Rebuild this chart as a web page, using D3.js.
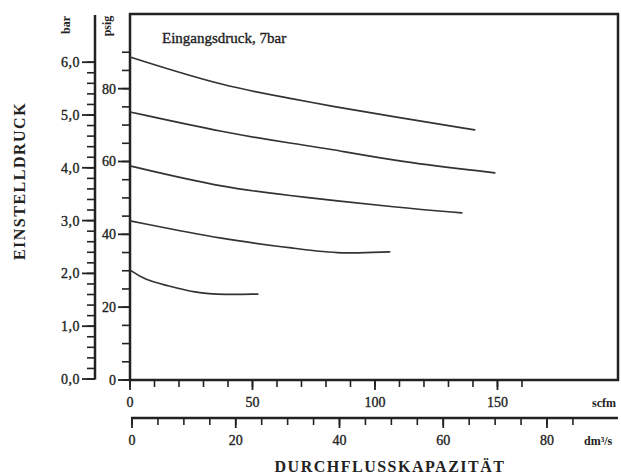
<!DOCTYPE html>
<html><head><meta charset="utf-8">
<script src="https://cdn.jsdelivr.net/npm/d3@7"></script>
<style>
html,body{margin:0;padding:0;background:#fff;}
svg{display:block;}
text{font-family:"Liberation Serif","Times New Roman",serif;fill:#222;}
.heavy{stroke:#222;stroke-width:0.35px;}
</style></head>
<body>
<script>
// ---- data (flow in scfm, set pressure in psig) ----
const seriesNames = ["curve6bar","curve5bar","curve4bar","curve3bar","curve2bar"];
const flow6 = [0, 38.7, 69.3, 79.5, 110.1, 140.7];
const psig6 = [88.7, 80.5, 76.9, 75.5, 72.0, 68.7];
const flow5 = [0, 38.7, 69.3, 79.5, 110.1, 148.9];
const psig5 = [73.6, 67.9, 64.6, 63.7, 59.9, 56.9];
const flow4 = [0, 38.7, 69.3, 110.1, 135.4];
const psig4 = [58.8, 52.7, 50.3, 47.3, 45.9];
const flow3 = [0, 38.7, 69.3, 85.6, 106];
const psig3 = [43.7, 38.5, 36.0, 34.6, 35.2];
const flow2 = [0, 6.1, 14.3, 26.5, 38.7, 52.2];
const psig2 = [30.2, 27.5, 26.1, 23.9, 23.4, 23.6];

const barTicksMajor = [0,1,2,3,4,5,6];
const barTickLabels = ["0,0","1,0","2,0","3,0","4,0","5,0","6,0"];
const psigTicksMajor = [0,20,40,60,80];
const scfmTicksMajor = [0,50,100,150];
const dmTicksMajor = [0,20,40,60,80];

const annotation = "Eingangsdruck, 7bar";
const yTitle = "EINSTELLDRUCK";
const xTitle = "DURCHFLUSSKAPAZITÄT";

// ---- layout ----
const W = 621, H = 476;
const svg = d3.select("body").append("svg").attr("width", W).attr("height", H);
const ink = "#222";

const xScfm = d3.scaleLinear().domain([0, 199.2]).range([130, 618]);
const xDm = d3.scaleLinear().domain([0, 80]).range([132, 547]);
const yPsig = d3.scaleLinear().domain([0, 100.5]).range([380, 14]);
const yBar = d3.scaleLinear().domain([0, 6]).range([379, 62.2]);

// frame
svg.append("rect").attr("x", 130).attr("y", 14).attr("width", 488).attr("height", 366)
  .attr("fill", "none").attr("stroke", ink).attr("stroke-width", 2.5);

// bar axis
const gBar = svg.append("g").attr("transform", "translate(95,0)");
gBar.append("line").attr("x1",0).attr("x2",0).attr("y1",15).attr("y2",379.5).attr("stroke",ink).attr("stroke-width",2.5);
gBar.selectAll("line.minor").data(d3.range(0, 6.01, 0.2)).join("line").attr("class","minor")
  .attr("x1", 0).attr("x2", -8).attr("y1", d=>yBar(d)).attr("y2", d=>yBar(d)).attr("stroke", ink).attr("stroke-width", 1.6);
gBar.selectAll("line.major").data(barTicksMajor).join("line").attr("class","major")
  .attr("x1", 0).attr("x2", -13).attr("y1", d=>yBar(d)).attr("y2", d=>yBar(d)).attr("stroke", ink).attr("stroke-width", 1.8);
gBar.selectAll("text").data(barTicksMajor).join("text").attr("class","heavy")
  .attr("x", -15).attr("y", d=>yBar(d)).attr("dy","0.35em").attr("text-anchor","end")
  .attr("font-size", 14).attr("letter-spacing", 0.5).text((d,i)=>barTickLabels[i]);

// psig axis
const gPsig = svg.append("g").attr("transform", "translate(130,0)");
gPsig.selectAll("line.minor").data(d3.range(0, 91, 5)).join("line").attr("class","minor")
  .attr("x1", 0).attr("x2", -8).attr("y1", d=>yPsig(d)).attr("y2", d=>yPsig(d)).attr("stroke", ink).attr("stroke-width", 1.6);
gPsig.selectAll("line.major").data(psigTicksMajor).join("line").attr("class","major")
  .attr("x1", 0).attr("x2", -12).attr("y1", d=>yPsig(d)).attr("y2", d=>yPsig(d)).attr("stroke", ink).attr("stroke-width", 1.8);
gPsig.selectAll("text").data(psigTicksMajor).join("text").attr("class","heavy")
  .attr("x", -14).attr("y", d=>yPsig(d)).attr("dy","0.35em").attr("text-anchor","end")
  .attr("font-size", 14).text(d=>d);

// unit labels on top of y axes
svg.append("text").attr("transform","translate(70,25) rotate(-90)").attr("text-anchor","middle")
  .attr("font-size", 12).attr("font-weight","bold").text("bar");
svg.append("text").attr("transform","translate(111,26) rotate(-90)").attr("text-anchor","middle")
  .attr("font-size", 12).attr("font-weight","bold").text("psig");

// scfm axis (frame bottom)
const gScfm = svg.append("g").attr("transform","translate(0,380)");
gScfm.selectAll("line.minor").data(d3.range(0, 161, 10)).join("line").attr("class","minor")
  .attr("x1", d=>xScfm(d)).attr("x2", d=>xScfm(d)).attr("y1", 0).attr("y2", 7).attr("stroke", ink).attr("stroke-width", 1.6);
gScfm.selectAll("line.major").data(scfmTicksMajor).join("line").attr("class","major")
  .attr("x1", d=>xScfm(d)).attr("x2", d=>xScfm(d)).attr("y1", 0).attr("y2", 10).attr("stroke", ink).attr("stroke-width", 1.8);
gScfm.selectAll("text").data(scfmTicksMajor).join("text").attr("class","heavy")
  .attr("x", d=>xScfm(d)).attr("y", 27).attr("text-anchor","middle").attr("font-size", 14).text(d=>d);
gScfm.append("text").attr("x", 592).attr("y", 27).attr("font-size", 12).attr("font-weight","bold").text("scfm");

// dm3/s axis
const gDm = svg.append("g").attr("transform","translate(0,418)");
gDm.append("line").attr("x1", 131).attr("x2", 618).attr("y1",0).attr("y2",0).attr("stroke",ink).attr("stroke-width",2.5);
gDm.selectAll("line.minor").data(d3.range(0, 86, 5)).join("line").attr("class","minor")
  .attr("x1", d=>xDm(d)).attr("x2", d=>xDm(d)).attr("y1", 0).attr("y2", 7).attr("stroke", ink).attr("stroke-width", 1.6);
gDm.selectAll("line.major").data(dmTicksMajor).join("line").attr("class","major")
  .attr("x1", d=>xDm(d)).attr("x2", d=>xDm(d)).attr("y1", 0).attr("y2", 10).attr("stroke", ink).attr("stroke-width", 1.8);
gDm.selectAll("text").data(dmTicksMajor).join("text").attr("class","heavy")
  .attr("x", d=>xDm(d)).attr("y", 27).attr("text-anchor","middle").attr("font-size", 14).text(d=>d);
gDm.append("text").attr("x", 584).attr("y", 27).attr("font-size", 12).attr("font-weight","bold")
  .text("dm³/s");

// titles
svg.append("text").attr("transform","translate(25,181) rotate(-90)").attr("text-anchor","middle")
  .attr("font-size", 16).attr("font-weight","bold").attr("letter-spacing", 1.5).text(yTitle);
svg.append("text").attr("x", 390).attr("y", 472).attr("text-anchor","middle")
  .attr("font-size", 16).attr("font-weight","bold").attr("letter-spacing", 1.5).text(xTitle);

// annotation
svg.append("text").attr("class","heavy").attr("x", 162).attr("y", 43).attr("font-size", 15).text(annotation);

// curves
const flows = [flow6, flow5, flow4, flow3, flow2];
const psigs = [psig6, psig5, psig4, psig3, psig2];
const line = d3.line().x(d=>xScfm(d[0])).y(d=>yPsig(d[1])).curve(d3.curveBasis);
svg.append("g").selectAll("path").data(seriesNames.map((n,i)=>flows[i].map((f,j)=>[f, psigs[i][j]])))
  .join("path").attr("d", line).attr("fill","none").attr("stroke","#333").attr("stroke-width",1.7)
  .attr("stroke-linecap","round");
</script>
</body></html>
